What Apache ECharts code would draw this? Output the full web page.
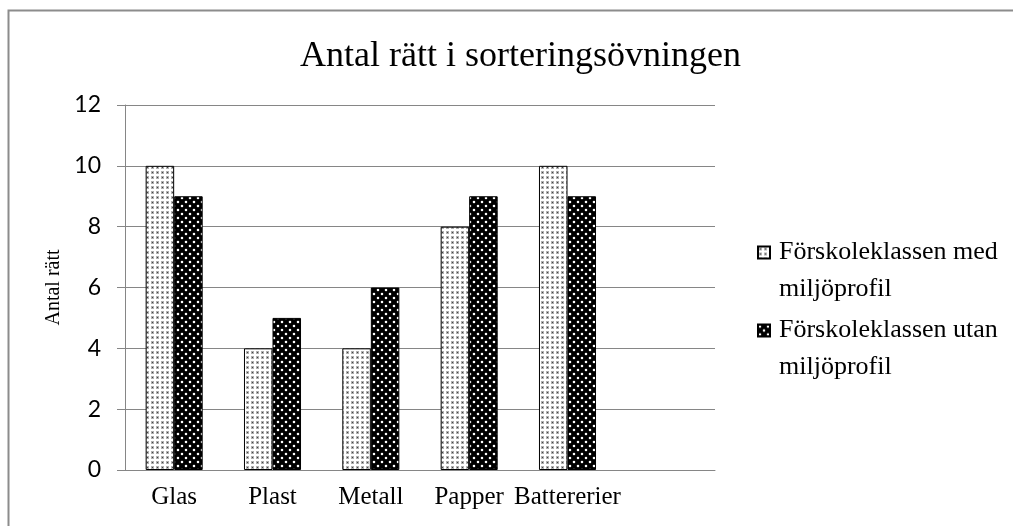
<!DOCTYPE html>
<html>
<head>
<meta charset="utf-8">
<script src="https://cdn.jsdelivr.net/npm/echarts@6/dist/echarts.min.js"></script>
<style>
  html, body { margin: 0; padding: 0; background: #fff; }
  #main { width: 1013px; height: 526px; }
</style>
</head>
<body>
<div id="main"></div>
<script>
var categories = ['Glas', 'Plast', 'Metall', 'Papper', 'Battererier', ''];
var medProfil = [10, 4, 4, 8, 10, null];
var utanProfil = [9, 5, 6, 9, 9, null];
var seriesNames = ['Förskoleklassen med miljöprofil', 'Förskoleklassen utan miljöprofil'];

// fill patterns like the original hatch fills
function lightPattern() {
    var c = document.createElement('canvas');
    c.width = 5; c.height = 5;
    var ctx = c.getContext('2d');
    ctx.fillStyle = '#ffffff';
    ctx.fillRect(0, 0, 5, 5);
    ctx.fillStyle = '#b0b0b0';
    ctx.fillRect(1, 1, 3, 3);
    ctx.fillStyle = '#444444';
    ctx.fillRect(2, 2, 1, 1);
    return c;
}
function darkPattern() {
    var c = document.createElement('canvas');
    c.width = 8; c.height = 8;
    var ctx = c.getContext('2d');
    ctx.fillStyle = '#000000';
    ctx.fillRect(0, 0, 8, 8);
    ctx.fillStyle = '#ffffff';
    ctx.beginPath();
    ctx.arc(2, 2, 1.3, 0, Math.PI * 2);
    ctx.arc(6, 6, 1.3, 0, Math.PI * 2);
    ctx.fill();
    return c;
}

var legendText = {
    fontFamily: 'Liberation Serif',
    fontSize: 26,
    lineHeight: 37,
    color: '#000',
    padding: [0, 0, 0, 4]
};
function legendItem(name, top) {
    return {
        orient: 'vertical',
        left: 752,
        top: top,
        icon: 'rect',
        itemWidth: 12,
        itemHeight: 12,
        data: [name],
        // blank first line so the icon lines up with the first text line
        formatter: function (n) {
            return '\u00a0\n' + n.replace(' miljöprofil', '\nmiljöprofil');
        },
        textStyle: legendText
    };
}

var myChart = echarts.init(document.getElementById('main'));
var option = {
    backgroundColor: '#fff',
    animation: false,
    graphic: [{
        type: 'rect',
        shape: { x: 8.5, y: 10.5, width: 1100, height: 600 },
        style: { fill: 'none', stroke: '#8c8c8c', lineWidth: 2 },
        silent: true
    }],
    title: {
        text: 'Antal rätt i sorteringsövningen',
        left: 295,
        top: 34,
        textStyle: {
            fontFamily: 'Liberation Serif',
            fontWeight: 'normal',
            fontSize: 36,
            color: '#000'
        }
    },
    legend: [
        legendItem(seriesNames[0], 192),
        legendItem(seriesNames[1], 270)
    ],
    grid: {
        left: 125,
        right: 298,
        top: 105,
        bottom: 56
    },
    xAxis: {
        type: 'category',
        data: categories,
        axisLine: { lineStyle: { color: '#868686', width: 1 } },
        axisTick: { show: false },
        axisLabel: {
            fontFamily: 'Liberation Serif',
            fontSize: 25,
            color: '#000',
            margin: 15,
            interval: 0
        }
    },
    yAxis: {
        type: 'value',
        min: 0,
        max: 12,
        interval: 2,
        name: 'Antal rätt',
        nameLocation: 'middle',
        nameGap: 58,
        nameTextStyle: {
            fontFamily: 'Liberation Serif',
            fontSize: 20,
            color: '#000'
        },
        axisLine: { show: true, lineStyle: { color: '#868686', width: 1 } },
        axisTick: { show: true, length: 8, lineStyle: { color: '#868686' } },
        splitLine: { lineStyle: { color: '#868686', width: 1 } },
        axisLabel: {
            fontFamily: 'Lato',
            fontSize: 23,
            color: '#000',
            margin: 24
        }
    },
    series: [
        {
            name: seriesNames[0],
            type: 'bar',
            barGap: '0%',
            barCategoryGap: '42%',
            itemStyle: {
                color: { image: lightPattern(), repeat: 'repeat' },
                borderColor: '#000',
                borderWidth: 1
            },
            data: medProfil
        },
        {
            name: seriesNames[1],
            type: 'bar',
            barGap: '0%',
            barCategoryGap: '42%',
            itemStyle: {
                color: { image: darkPattern(), repeat: 'repeat' },
                borderColor: '#000',
                borderWidth: 1
            },
            data: utanProfil
        }
    ]
};
myChart.setOption(option);
</script>
</body>
</html>
